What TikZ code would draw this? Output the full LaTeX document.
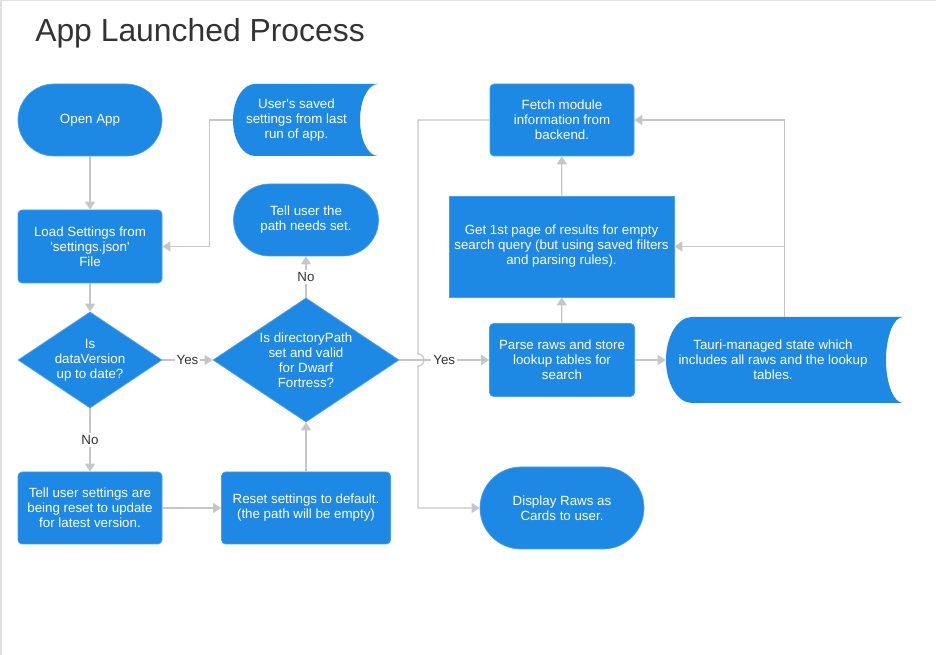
\documentclass[tikz,border=0pt]{standalone}
\usepackage{fontspec}
\setmainfont{Liberation Sans}
\usepackage{tikz}
\usetikzlibrary{calc,arrows.meta,shapes.geometric}
\definecolor{bluec}{HTML}{1E88E5}
\definecolor{edgec}{HTML}{4A9FEA}
\definecolor{grayc}{HTML}{C6C6C6}
\definecolor{inkc}{HTML}{333333}
\definecolor{framec}{HTML}{E0E0E0}
\tikzset{
  ar/.style={-{Triangle[length=6pt,width=7.5pt]},line width=0.9pt,grayc},
  box/.style={draw=edgec,line width=0.5pt,fill=bluec,rounded corners=3pt,text=white,align=center,
    minimum width=108pt,minimum height=54pt,inner sep=2pt,font=\fontsize{10}{11.25}\selectfont},
  term/.style={box,rounded corners=27pt},
  dec/.style={diamond,draw=edgec,line width=0.5pt,fill=bluec,text=white,align=center,inner sep=0pt,
    aspect=1.5,minimum width=108pt,minimum height=72pt,font=\fontsize{10}{11.25}\selectfont},
  txt/.style={text=white,align=center,inner sep=0pt,font=\fontsize{10}{11.25}\selectfont},
  lbl/.style={fill=white,text=inkc,inner sep=1.5pt,font=\fontsize{10}{11.25}\selectfont}
}
\begin{document}
\begin{tikzpicture}[x=0.75pt,y=-0.75pt]
\useasboundingbox (0,0) rectangle (936,655);
\fill[framec] (0,0) rectangle (936,1.5);
\fill[framec] (0,0) rectangle (2,655);
\node[anchor=base west,inner sep=0pt,text=inkc,font=\fontsize{23.9}{28}\selectfont] (title) at (35,42) {App Launched Process};
\fill[bluec] (255,84) -- (378,84) arc[start angle=-90,end angle=-270,x radius=18,y radius=36]
  -- (255,156) arc[start angle=90,end angle=270,x radius=22,y radius=36] -- cycle;
\fill[bluec] (692,317) -- (903,317) arc[start angle=-90,end angle=-270,x radius=17,y radius=43]
  -- (692,403) arc[start angle=90,end angle=270,x radius=26,y radius=43] -- cycle;
\node[term] (open) at (90,120) {Open App};
\node[box,minimum height=54.75pt] (load) at (90,246.5) {Load Settings from\\\textquotesingle settings.json\textquotesingle\\File};
\node[dec] (ver) at (90,360) {Is\\dataVersion\\up to date?};
\node[box] (warn) at (90,508) {Tell user settings are\\being reset to update\\for latest version.};
\node[box,minimum width=126.75pt] (reset) at (306,508) {Reset settings to default.\\(the path will be empty)};
\node[dec,minimum width=139.5pt,minimum height=93pt] (path) at (306,360) {Is directoryPath\\set and valid\\for Dwarf\\Fortress?};
\node[term,minimum width=108.75pt] (tell) at (306,220) {Tell user the\\path needs set.};
\node[txt,minimum width=95.25pt,minimum height=54pt] (saved) at (296.5,120) {User\textquotesingle s saved\\settings from last\\run of app.};
\node[box] (fetch) at (562,120) {Fetch module\\information from\\backend.};
\node[box,rounded corners=0pt,minimum width=168.75pt,minimum height=75.75pt] (page) at (561.5,246.5) {Get 1st page of results for empty\\search query (but using saved filters\\and parsing rules).};
\node[box,minimum width=108.75pt,minimum height=54.75pt] (parse) at (562,360) {Parse raws and store\\lookup tables for\\search};
\node[txt,minimum width=160.5pt,minimum height=64.5pt] (state) at (773,360) {Tauri-managed state which\\includes all raws and the lookup\\tables.};
\node[term,minimum width=123pt,minimum height=61.5pt,rounded corners=30.75pt] (show) at (562,508) {Display Raws as\\Cards to user.};
\coordinate (hop) at (418,360);
\draw[ar] (open) -- (load);
\draw[ar] (saved.west) -- ++(-23,0) |- (load.east);
\draw[ar] (load) -- (ver);
\draw[ar] (ver) -- node[lbl]{Yes} (path);
\draw[ar] (ver) -- node[lbl]{No} (warn);
\draw[ar] (warn) -- (reset);
\draw[ar] (reset) -- (path);
\draw[ar] (path) -- node[lbl]{No} (tell);
\draw[ar] (path) -- node[lbl]{Yes} (parse);
\draw[ar] (fetch.west) -| ($(hop)+(0,-6)$) arc[start angle=-90,end angle=90,radius=6] |- (show.west);
\draw[ar] (parse) -- (page);
\draw[ar] (page) -- (fetch);
\draw[ar] (parse) -- (state);
\draw[ar] ([xshift=8.6pt]state.north) |- (fetch.east);
\draw[ar] ([xshift=8.6pt]state.north) |- (page.east);
\end{tikzpicture}
\end{document}
